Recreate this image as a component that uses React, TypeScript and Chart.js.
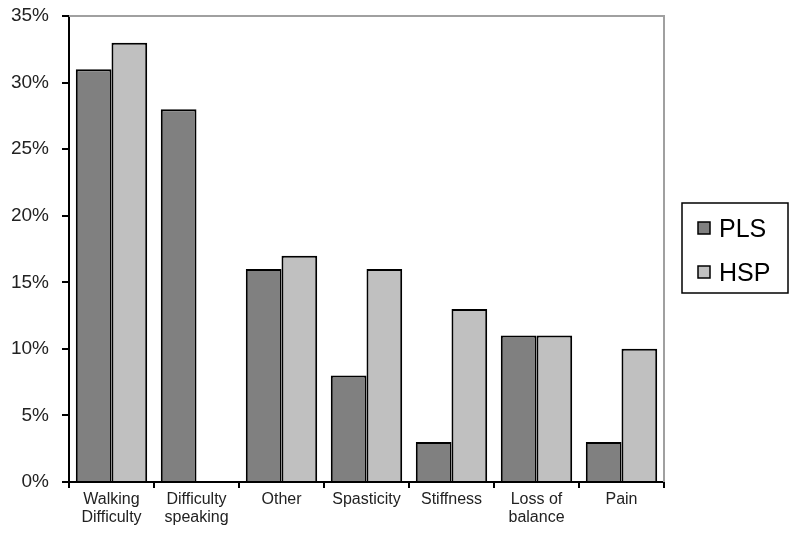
import React, { useEffect, useRef } from "react";
import { Chart, registerables } from "chart.js";

Chart.register(...registerables);

const categories: (string | string[])[] = [
  ["Walking", "Difficulty"],
  ["Difficulty", "speaking"],
  "Other",
  "Spasticity",
  "Stiffness",
  ["Loss of", "balance"],
  "Pain",
];
const plsValues = [31, 28, 16, 8, 3, 11, 3];
const hspValues = [33, 0, 17, 16, 13, 11, 10];
const seriesNames = ["PLS", "HSP"];
const seriesColors = ["#808080", "#c0c0c0"];
const yMax = 35;
const yStep = 5;

const framePlugin = {
  id: "frame",
  afterDatasetsDraw(chart: any) {
    const { ctx, chartArea } = chart;
    ctx.save();
    ctx.strokeStyle = "#a0a0a0";
    ctx.lineWidth = 2;
    ctx.beginPath();
    ctx.moveTo(chartArea.left, chartArea.top);
    ctx.lineTo(chartArea.right, chartArea.top);
    ctx.lineTo(chartArea.right, chartArea.bottom);
    ctx.stroke();
    ctx.restore();
  },
};

const legendPlugin = {
  id: "boxLegend",
  afterDraw(chart: any) {
    const { ctx } = chart;
    const x = 682, y = 203, w = 106, h = 90;
    ctx.save();
    ctx.strokeStyle = "#000";
    ctx.lineWidth = 1.5;
    ctx.strokeRect(x, y, w, h);
    ctx.font = "25px 'Liberation Sans', Arial, sans-serif";
    ctx.textBaseline = "alphabetic";
    chart.data.datasets.forEach((ds: any, i: number) => {
      const cy = 228 + i * 44;
      ctx.fillStyle = ds.backgroundColor;
      ctx.fillRect(698, cy - 6, 12, 12);
      ctx.strokeStyle = "#000";
      ctx.lineWidth = 1.5;
      ctx.strokeRect(698, cy - 6, 12, 12);
      ctx.fillStyle = "#000";
      ctx.fillText(ds.label, 719, cy + 9);
    });
    ctx.restore();
  },
};

export default function App() {
  const ref = useRef<HTMLCanvasElement>(null);
  useEffect(() => {
    if (!ref.current) return;
    const chart = new Chart(ref.current, {
      type: "bar",
      data: {
        labels: categories,
        datasets: [plsValues, hspValues].map((vals, i) => ({
          label: seriesNames[i],
          data: vals,
          backgroundColor: seriesColors[i],
          borderColor: "#000",
          borderWidth: 2,
          borderSkipped: "bottom",
          barPercentage: 1,
          categoryPercentage: 0.84,
        })),
      },
      options: {
        animation: false,
        responsive: false,
        maintainAspectRatio: false,
        layout: { padding: { top: 16, right: 136, left: 0, bottom: 0 } },
        plugins: { legend: { display: false }, tooltip: { enabled: false } },
        scales: {
          x: {
            grid: {
              offset: true,
              drawOnChartArea: false,
              drawTicks: true,
              tickLength: 6,
              color: "#000",
              lineWidth: 2,
            },
            border: { display: true, color: "#000", width: 2 },
            ticks: {
              color: "#222",
              font: { family: "'Liberation Sans', Arial, sans-serif", size: 16, lineHeight: 1.1 },
              padding: 3,
              maxRotation: 0,
              autoSkip: false,
            },
            afterFit: (s: any) => {
              s.height = 57;
              s.paddingLeft = 0;
              s.paddingRight = 0;
            },
          },
          y: {
            min: 0,
            max: yMax,
            grid: {
              drawOnChartArea: false,
              drawTicks: true,
              tickLength: 7,
              color: "#000",
              lineWidth: 2,
            },
            border: { display: true, color: "#000", width: 2 },
            ticks: {
              stepSize: yStep,
              color: "#222",
              font: { family: "'Liberation Sans', Arial, sans-serif", size: 19 },
              padding: 13,
              callback: (v: any) => v + "%",
            },
            afterFit: (s: any) => {
              s.width = 69;
              s.paddingTop = 0;
              s.paddingBottom = 0;
            },
          },
        },
      },
      plugins: [framePlugin, legendPlugin],
    });
    return () => chart.destroy();
  }, []);
  return (
    <div style={{ position: "fixed", left: 0, top: 0, width: 800, height: 539, background: "#fff" }}>
      <canvas ref={ref} width={800} height={539} style={{ width: 800, height: 539 }} />
    </div>
  );
}
